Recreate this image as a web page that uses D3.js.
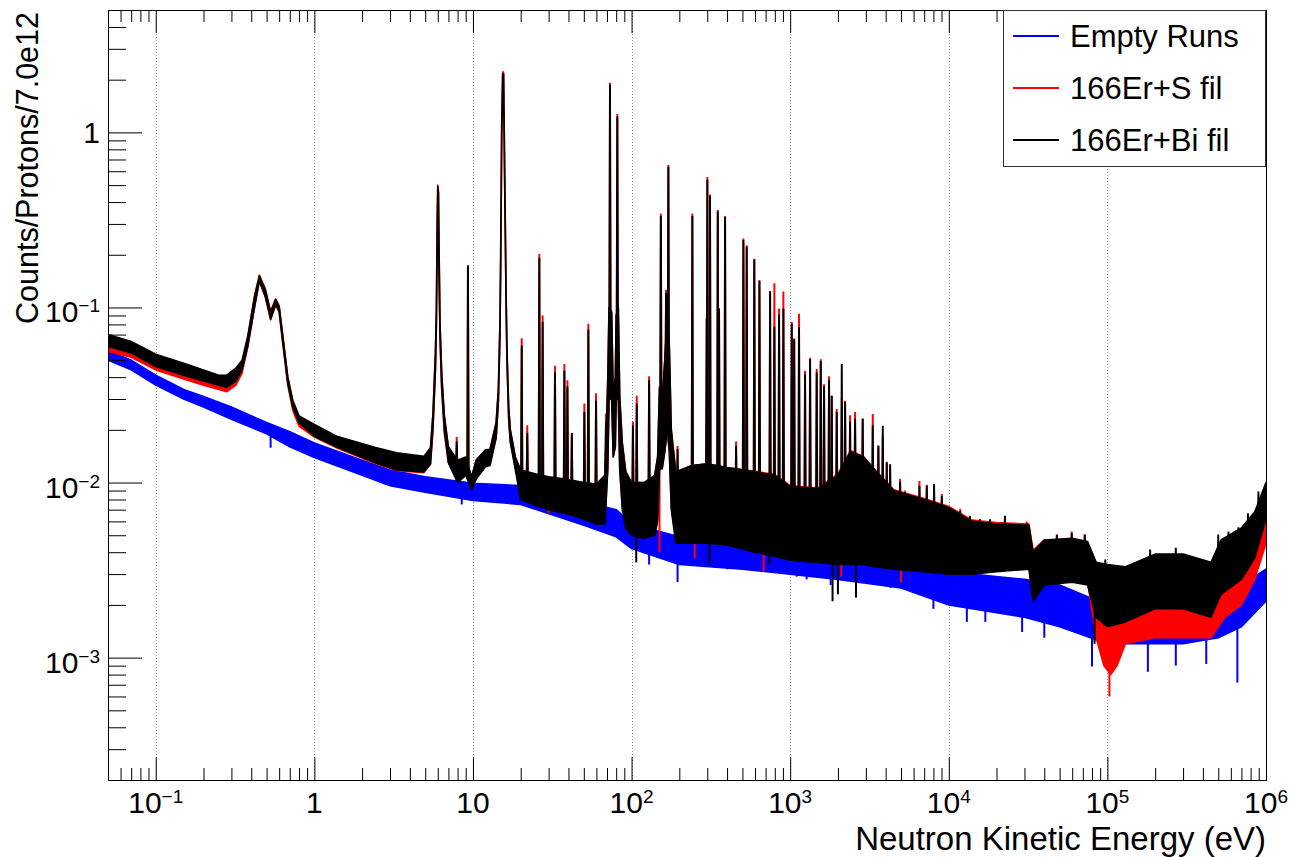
<!DOCTYPE html>
<html>
<head>
<meta charset="utf-8">
<script src="https://cdn.jsdelivr.net/npm/d3@7"></script>
<style>
  body { margin: 0; background: #fff; }
  svg { display: block; font-family: "Liberation Sans", Arial, Helvetica, sans-serif; }
</style>
</head>
<body>
<svg id="chart" width="1290" height="857"></svg>
<script>
// ---- data ----
// Each band row: [energy (eV), lower edge, upper edge] of the noisy histogram
const emptyRuns = [
  [0.05, 0.050, 0.057], [0.07, 0.044, 0.050], [0.1, 0.036, 0.041], [0.15, 0.030, 0.034],
  [0.2, 0.027, 0.031], [0.3, 0.023, 0.027], [0.5, 0.019, 0.022], [0.7, 0.016, 0.0195],
  [1, 0.0139, 0.0168], [2, 0.0110, 0.0134], [3, 0.0096, 0.0118], [5, 0.0088, 0.0108],
  [10, 0.0079, 0.0099], [20, 0.0075, 0.0096], [50, 0.0057, 0.0078], [80, 0.0049, 0.0070],
  [100, 0.0042, 0.0058], [200, 0.0034, 0.0049], [500, 0.0032, 0.0047], [1000, 0.0030, 0.0045],
  [2000, 0.0028, 0.0041], [5000, 0.0025, 0.0038], [1e4, 0.0020, 0.0035], [1.4e4, 0.0019, 0.0030],
  [3e4, 0.0017, 0.0028], [5e4, 0.0015, 0.0026], [1e5, 0.0012, 0.0020], [2e5, 0.0012, 0.0020],
  [3e5, 0.0012, 0.0019], [5e5, 0.0013, 0.0021], [7e5, 0.0015, 0.0026], [1e6, 0.0021, 0.0032]
];

const erBiFil = [
  [0.05, 0.060, 0.070], [0.07, 0.055, 0.064], [0.1, 0.046, 0.054], [0.15, 0.041, 0.048],
  [0.2, 0.038, 0.044], [0.25, 0.036, 0.041], [0.28, 0.035, 0.041], [0.32, 0.038, 0.045],
  [0.35, 0.044, 0.050], [0.38, 0.060, 0.068], [0.42, 0.101, 0.116], [0.45, 0.142, 0.151],
  [0.49, 0.116, 0.127], [0.53, 0.086, 0.094], [0.57, 0.104, 0.111], [0.60, 0.095, 0.101],
  [0.63, 0.065, 0.071], [0.68, 0.037, 0.040], [0.73, 0.027, 0.0295], [0.80, 0.022, 0.024],
  [1.0, 0.0184, 0.0215], [1.4, 0.0159, 0.0183], [2.4, 0.0130, 0.0159], [3.3, 0.0118, 0.0148],
  [4.9, 0.0115, 0.0141], [5.4, 0.0128, 0.0158], [5.6, 0.021, 0.025], [5.8, 0.045, 0.055],
  [5.88, 0.080, 0.095], [5.95, 0.22, 0.30], [6.0, 0.42, 0.49], [6.06, 0.30, 0.45],
  [6.12, 0.14, 0.20], [6.2, 0.068, 0.080], [6.35, 0.035, 0.042], [6.6, 0.020, 0.024],
  [7.0, 0.0130, 0.0160], [8.0, 0.0100, 0.0134], [9.0, 0.0110, 0.0140], [9.8, 0.0091, 0.0108],
  [10.5, 0.0105, 0.0135], [12.0, 0.0123, 0.0154], [12.8, 0.0125, 0.0155], [14.0, 0.018, 0.022],
  [14.46, 0.029, 0.034], [14.8, 0.070, 0.082], [14.96, 0.17, 0.20], [15.18, 0.95, 1.10],
  [15.4, 1.90, 2.15], [15.6, 1.85, 2.15], [15.93, 0.34, 0.40], [16.2, 0.095, 0.11],
  [16.4, 0.048, 0.055], [16.8, 0.023, 0.027], [17.2, 0.017, 0.020], [18.5, 0.0118, 0.0140],
  [20, 0.0080, 0.0118], [25, 0.0074, 0.0112], [30, 0.0070, 0.0108], [40, 0.0066, 0.0104],
  [50, 0.0062, 0.0100], [60, 0.0058, 0.0098], [68, 0.0058, 0.0110], [70.8, 0.012, 0.039],
  [72.1, 0.030, 0.100], [74.9, 0.030, 0.094], [76.6, 0.014, 0.032], [79, 0.016, 0.040],
  [80, 0.030, 0.090], [82.5, 0.030, 0.100], [84.2, 0.012, 0.031], [87.4, 0.0070, 0.0168],
  [92, 0.0055, 0.0115], [100, 0.0050, 0.0100], [120, 0.0048, 0.0100], [140, 0.0050, 0.0110],
  [146, 0.0060, 0.0140], [150, 0.012, 0.035], [156, 0.012, 0.030], [162, 0.015, 0.050],
  [168, 0.020, 0.090], [173, 0.015, 0.060], [178, 0.0070, 0.020], [190, 0.0045, 0.0115],
  [240, 0.0045, 0.0125], [300, 0.0045, 0.0128], [400, 0.0044, 0.0122], [600, 0.0040, 0.0115],
  [800, 0.0038, 0.0110], [1000, 0.0036, 0.0095], [1500, 0.0035, 0.0092], [2000, 0.0034, 0.0110],
  [2400, 0.0034, 0.0150], [2900, 0.0034, 0.0140], [3500, 0.0033, 0.0115], [4500, 0.0032, 0.0090],
  [7000, 0.0031, 0.0080], [1e4, 0.0030, 0.0072], [1.4e4, 0.0030, 0.0060], [2e4, 0.0031, 0.0058],
  [3.2e4, 0.0032, 0.0057], [3.4e4, 0.0021, 0.0040], [4e4, 0.0026, 0.0047], [6e4, 0.0027, 0.0048],
  [7.5e4, 0.0026, 0.0046], [8.5e4, 0.0017, 0.0035], [1e5, 0.0015, 0.0034], [1.3e5, 0.0016, 0.0033],
  [2e5, 0.0019, 0.0039], [3e5, 0.0019, 0.0039], [4.5e5, 0.0017, 0.0035], [5.2e5, 0.0023, 0.0047],
  [7e5, 0.0028, 0.0055], [8.5e5, 0.0037, 0.0068], [1e6, 0.0062, 0.0100]
];

const erSFil = [
  [0.05, 0.056, 0.066], [0.07, 0.052, 0.060], [0.1, 0.044, 0.051], [0.15, 0.039, 0.046],
  [0.2, 0.036, 0.042], [0.25, 0.034, 0.039], [0.28, 0.033, 0.039], [0.32, 0.036, 0.043],
  [0.35, 0.042, 0.048], [0.38, 0.059, 0.068], [0.42, 0.100, 0.117], [0.45, 0.141, 0.153],
  [0.49, 0.115, 0.128], [0.53, 0.085, 0.095], [0.57, 0.103, 0.112], [0.60, 0.094, 0.102],
  [0.63, 0.064, 0.071], [0.68, 0.036, 0.040], [0.73, 0.026, 0.0295], [0.80, 0.021, 0.024],
  [1.0, 0.0182, 0.0210], [1.4, 0.0157, 0.0180], [2.4, 0.0129, 0.0156], [3.3, 0.0117, 0.0145],
  [4.9, 0.0114, 0.0138], [5.4, 0.0127, 0.0155], [5.6, 0.020, 0.025], [5.8, 0.044, 0.056],
  [5.88, 0.079, 0.097], [5.95, 0.22, 0.31], [6.0, 0.42, 0.50], [6.06, 0.30, 0.46],
  [6.12, 0.14, 0.20], [6.2, 0.067, 0.081], [6.35, 0.034, 0.042], [6.6, 0.019, 0.024],
  [7.0, 0.0130, 0.0157], [8.0, 0.0102, 0.0132], [9.0, 0.0112, 0.0138], [9.8, 0.0093, 0.0107],
  [10.5, 0.0107, 0.0134], [12.0, 0.0125, 0.0152], [12.8, 0.0127, 0.0153], [14.0, 0.018, 0.022],
  [14.46, 0.029, 0.034], [14.8, 0.070, 0.083], [14.96, 0.17, 0.21], [15.18, 0.95, 1.13],
  [15.4, 1.90, 2.22], [15.6, 1.85, 2.20], [15.93, 0.34, 0.41], [16.2, 0.095, 0.112],
  [16.4, 0.048, 0.056], [16.8, 0.023, 0.027], [17.2, 0.017, 0.020], [18.5, 0.0122, 0.0139],
  [20, 0.0083, 0.0117], [25, 0.0077, 0.0111], [30, 0.0073, 0.0107], [40, 0.0069, 0.0103],
  [50, 0.0065, 0.0099], [60, 0.0061, 0.0097], [68, 0.0061, 0.0110], [70.8, 0.012, 0.039],
  [72.1, 0.030, 0.100], [74.9, 0.030, 0.094], [76.6, 0.014, 0.032], [79, 0.016, 0.040],
  [80, 0.030, 0.090], [82.5, 0.030, 0.100], [84.2, 0.012, 0.031], [87.4, 0.0073, 0.0168],
  [92, 0.0058, 0.0115], [100, 0.0053, 0.0100], [120, 0.0051, 0.0100], [140, 0.0053, 0.0110],
  [146, 0.0063, 0.0140], [150, 0.012, 0.035], [156, 0.012, 0.030], [162, 0.015, 0.050],
  [168, 0.020, 0.090], [173, 0.015, 0.060], [178, 0.0073, 0.020], [190, 0.0047, 0.0115],
  [240, 0.0047, 0.0125], [300, 0.0047, 0.0128], [400, 0.0046, 0.0122], [600, 0.0042, 0.0116],
  [800, 0.0040, 0.0111], [1000, 0.0038, 0.0096], [1500, 0.0037, 0.0093], [2000, 0.0036, 0.0112],
  [2400, 0.0036, 0.0152], [2900, 0.0036, 0.0141], [3500, 0.0035, 0.0116], [4500, 0.0034, 0.0091],
  [7000, 0.0033, 0.0081], [1e4, 0.0032, 0.0073], [1.4e4, 0.0032, 0.0061], [2e4, 0.0033, 0.0059],
  [3.2e4, 0.0034, 0.0058], [3.4e4, 0.0022, 0.0041], [4e4, 0.0028, 0.0047], [6e4, 0.0029, 0.0047],
  [7.5e4, 0.0027, 0.0045], [8.5e4, 0.0013, 0.0030], [9.5e4, 0.0009, 0.0020], [1.05e5, 0.0008, 0.0017],
  [1.15e5, 0.0009, 0.0020], [1.3e5, 0.0012, 0.0026], [2e5, 0.0013, 0.0027], [3e5, 0.0013, 0.0026],
  [4.5e5, 0.0013, 0.0025], [5.5e5, 0.0017, 0.0033], [7e5, 0.0020, 0.0040], [8.5e5, 0.0028, 0.0050],
  [1e6, 0.0045, 0.0066]
];

// Narrow resonances: [energy (eV), top with Bi filter, top with S filter]
const resonances = [
  [7.9, 0.017, 0.018], [9.3, 0.170, 0.173], [20.3, 0.060, 0.066], [22.0, 0.019, 0.021],
  [26.2, 0.190, 0.200], [27.5, 0.082, 0.089], [32.9, 0.042, 0.046], [37.7, 0.043, 0.047],
  [39.4, 0.035, 0.038], [42.0, 0.019, 0.019], [50.4, 0.025, 0.028], [53.4, 0.074, 0.080],
  [59.7, 0.029, 0.032], [69.0, 0.022, 0.0245], [73.1, 1.85, 1.90], [81.3, 1.22, 1.26],
  [102, 0.021, 0.022], [107.8, 0.028, 0.031], [129, 0.038, 0.040], [153, 0.33, 0.34],
  [165, 0.12, 0.125], [170.6, 0.63, 0.645], [195, 0.0154, 0.016], [241.6, 0.33, 0.34],
  [297.7, 0.085, 0.086], [300.5, 0.53, 0.55], [312.3, 0.43, 0.437], [349.6, 0.35, 0.356],
  [356, 0.0975, 0.098], [388.6, 0.325, 0.33], [456, 0.016, 0.017], [507, 0.24, 0.245],
  [532, 0.22, 0.224], [594, 0.186, 0.188], [640, 0.14, 0.142], [747, 0.122, 0.123],
  [795, 0.077, 0.136], [851, 0.090, 0.0975], [906, 0.0975, 0.122], [1023, 0.080, 0.082],
  [1060, 0.065, 0.066], [1137, 0.0765, 0.091], [1241, 0.041, 0.043], [1335, 0.050, 0.051],
  [1470, 0.042, 0.044], [1559, 0.049, 0.050], [1635, 0.035, 0.036], [1758, 0.038, 0.040],
  [1828, 0.031, 0.031], [1966, 0.025, 0.026], [2115, 0.047, 0.030], [2219, 0.0285, 0.029],
  [2385, 0.022, 0.024], [2565, 0.023, 0.025], [2866, 0.0229, 0.023], [3317, 0.021, 0.0244],
  [3598, 0.0161, 0.016], [3836, 0.0209, 0.018], [4064, 0.0129, 0.013], [4266, 0.0126, 0.0125],
  [4932, 0.0100, 0.0104], [5300, 0.0087, 0.0089], [6530, 0.0095, 0.0101], [7266, 0.0095, 0.0096],
  [8075, 0.0097, 0.0092], [9036, 0.0083, 0.0085], [9707, 0.0070, 0.0072], [1.18e4, 0.0068, 0.0070],
  [1.36e4, 0.0064, 0.0061], [1.57e4, 0.0061, 0.0061], [1.82e4, 0.0061, 0.0060], [2.26e4, 0.0064, 0.0062],
  [3.1e4, 0.0058, 0.0059], [4.8e4, 0.0050, 0.0049], [5.96e4, 0.0051, 0.0052], [7.2e4, 0.0050, 0.0050],
  [9.7e4, 0.0036, 0.0024], [1.86e5, 0.0041, 0.0027], [2.7e5, 0.0042, 0.0027], [5.0e5, 0.0050, 0.0033],
  [5.8e5, 0.0052, 0.0036], [6.7e5, 0.0055, 0.0042], [7.7e5, 0.0066, 0.0048], [8.96e5, 0.0088, 0.0058]
];

// Single noise excursions out of the bands: [energy (eV), value]
const emptyRunsDips = [[0.53, 0.0158], [8.5, 0.0075], [13.7, 0.0077], [20.4, 0.0079],
  [31.7, 0.0067], [40, 0.0061], [48, 0.0058], [92, 0.0046], [129, 0.0034], [195, 0.0027],
  [400, 0.0032], [1100, 0.0029], [1270, 0.0028], [1800, 0.0026], [4300, 0.0025], [8000, 0.0019],
  [8800, 0.0021], [1.3e4, 0.0016], [1.7e4, 0.0016], [2.9e4, 0.0014], [4e4, 0.0013],
  [8.0e4, 0.00089], [1.8e5, 0.00083], [2.7e5, 0.0009], [4.2e5, 0.00092], [6.6e5, 0.00072]];
const erBiDips = [[107, 0.0035], [310, 0.0034], [740, 0.0034], [1850, 0.0021], [2000, 0.0023],
  [2600, 0.0022], [8.3e4, 0.0012]];
const erSDips = [[30, 0.0067], [55, 0.0066], [150, 0.0040], [250, 0.0037], [680, 0.0031],
  [2100, 0.0029], [5000, 0.0027], [1.03e5, 0.0006]];

const xTickLabels = [[0.1, "10", "\u22121"], [1, "1", ""], [10, "10", ""], [100, "10", "2"],
  [1e3, "10", "3"], [1e4, "10", "4"], [1e5, "10", "5"], [1e6, "10", "6"]];
const yTickLabels = [[1e-3, "10", "\u22123"], [1e-2, "10", "\u22122"], [1e-1, "10", "\u22121"], [1, "1", ""]];

const legendItems = [["Empty Runs", "#0000ff"], ["166Er+S fil", "#ff0000"], ["166Er+Bi fil", "#000000"]];

// ---- layout ----
const frame = { left: 108, right: 1266, top: 10, bottom: 780 };
const svg = d3.select('#chart');

const x = d3.scaleLog().domain([0.05, 1e6]).range([frame.left, frame.right]);
const y = d3.scaleLog().domain([2e-4, 5]).range([frame.bottom, frame.top]);

svg.append('defs').append('clipPath').attr('id', 'plot-clip')
  .append('rect')
  .attr('x', frame.left).attr('y', frame.top)
  .attr('width', frame.right - frame.left).attr('height', frame.bottom - frame.top);

// tick positions
const xMajor = xTickLabels.map(d => d[0]);
const xMinor = [];
d3.range(-2, 6).forEach(k => d3.range(2, 10).forEach(m => {
  const v = m * Math.pow(10, k);
  if (v >= 0.05 && v <= 1e6) xMinor.push(v);
}));
const yMajor = yTickLabels.map(d => d[0]);
const yMinor = [];
d3.range(-4, 1).forEach(k => d3.range(2, 10).forEach(m => {
  const v = m * Math.pow(10, k);
  if (v >= 2e-4 && v <= 5) yMinor.push(v);
}));

// vertical dotted grid
svg.append('g').selectAll('line')
  .data(xMajor.filter(v => v < 1e6))
  .enter().append('line')
  .attr('x1', d => Math.round(x(d)) + 0.5).attr('x2', d => Math.round(x(d)) + 0.5)
  .attr('y1', frame.top).attr('y2', frame.bottom)
  .attr('stroke', '#8a8a8a').attr('stroke-width', 1).attr('stroke-dasharray', '1,2');

// ---- histograms ----
const plot = svg.append('g').attr('clip-path', 'url(#plot-clip)');

function bandAt(band, e) {
  // geometric middle of the band at energy e (anchors spikes to the band)
  const i = d3.bisector(d => d[0]).right(band, e);
  const a = band[Math.max(0, i - 1)], b = band[Math.min(band.length - 1, i)];
  const ma = Math.log(a[1] * a[2]) / 2, mb = Math.log(b[1] * b[2]) / 2;
  if (a === b) return Math.exp(ma);
  const t = Math.log(e / a[0]) / Math.log(b[0] / a[0]);
  return Math.exp(ma + t * (mb - ma));
}

const area = d3.area().x(d => x(d[0])).y0(d => y(d[1])).y1(d => y(d[2]));
const line = d3.line().x(d => x(d[0])).y(d => y(d[1]));

function drawSeries(band, spikes, topIdx, dips, color) {
  const g = plot.append('g');
  g.append('path').datum(band)
    .attr('d', area)
    .attr('fill', color).attr('stroke', color)
    .attr('stroke-width', 1.6).attr('stroke-linejoin', 'round');

  spikes.forEach(r => {
    const e = r[0], top = r[topIdx], base = bandAt(band, e);
    if (top <= base) return;
    g.append('path')
      .attr('d', line([[e / 1.012, base], [e / 1.0025, top], [e * 1.0025, top], [e * 1.012, base]]))
      .attr('fill', color).attr('stroke', color).attr('stroke-width', 1.6);
  });

  dips.forEach(r => {
    g.append('line')
      .attr('x1', x(r[0])).attr('x2', x(r[0]))
      .attr('y1', y(bandAt(band, r[0]))).attr('y2', y(r[1]))
      .attr('stroke', color).attr('stroke-width', 2);
  });
}

drawSeries(emptyRuns, [], 1, emptyRunsDips, '#0000ff');
drawSeries(erSFil, resonances, 2, erSDips, '#ff0000');
drawSeries(erBiFil, resonances, 1, erBiDips, '#000000');

// ---- axes ----
function noDomain(g) { g.select('.domain').remove(); }

svg.append('g').attr('transform', `translate(0,${frame.bottom})`).attr('color', '#000')
  .call(d3.axisBottom(x).tickValues(xMinor).tickSize(-12).tickFormat('')).call(noDomain);
svg.append('g').attr('transform', `translate(0,${frame.bottom})`).attr('color', '#000')
  .call(d3.axisBottom(x).tickValues(xMajor).tickSize(-23).tickFormat('')).call(noDomain);
svg.append('g').attr('transform', `translate(0,${frame.top})`).attr('color', '#000')
  .call(d3.axisTop(x).tickValues(xMinor).tickSize(-12).tickFormat('')).call(noDomain);
svg.append('g').attr('transform', `translate(0,${frame.top})`).attr('color', '#000')
  .call(d3.axisTop(x).tickValues(xMajor).tickSize(-23).tickFormat('')).call(noDomain);
svg.append('g').attr('transform', `translate(${frame.left},0)`).attr('color', '#000')
  .call(d3.axisLeft(y).tickValues(yMinor).tickSize(-18).tickFormat('')).call(noDomain);
svg.append('g').attr('transform', `translate(${frame.left},0)`).attr('color', '#000')
  .call(d3.axisLeft(y).tickValues(yMajor).tickSize(-34).tickFormat('')).call(noDomain);

// frame
svg.append('rect')
  .attr('x', frame.left + 0.5).attr('y', frame.top + 0.5)
  .attr('width', frame.right - frame.left).attr('height', frame.bottom - frame.top)
  .attr('fill', 'none').attr('stroke', '#000').attr('stroke-width', 1);

// tick labels
function powLabel(sel, base, exp) {
  sel.append('tspan').text(base);
  if (exp) sel.append('tspan').attr('dy', -10).attr('font-size', 19).text(exp);
}

xTickLabels.forEach(([v, base, exp]) => {
  svg.append('text')
    .attr('x', x(v)).attr('y', 813)
    .attr('text-anchor', 'middle').attr('font-size', 30)
    .call(powLabel, base, exp);
});
yTickLabels.forEach(([v, base, exp]) => {
  svg.append('text')
    .attr('x', 100).attr('y', y(v) + (exp ? 15 : 11))
    .attr('text-anchor', 'end').attr('font-size', 30)
    .call(powLabel, base, exp);
});

// axis titles
svg.append('text')
  .attr('x', frame.right).attr('y', 849.5)
  .attr('text-anchor', 'end').attr('font-size', 33)
  .text('Neutron Kinetic Energy (eV)');
svg.append('text')
  .attr('transform', `translate(38,${frame.top + 2}) rotate(-90)`)
  .attr('text-anchor', 'end').attr('font-size', 30.5)
  .text('Counts/Protons/7.0e12');

// ---- legend ----
const legend = svg.append('g');
legend.append('rect')
  .attr('x', 1003.5).attr('y', 10.5).attr('width', 262).attr('height', 156)
  .attr('fill', '#fff').attr('stroke', '#333').attr('stroke-width', 1);
legendItems.forEach(([label, color], i) => {
  const cy = 36 + i * 52;
  legend.append('line')
    .attr('x1', 1013).attr('x2', 1059).attr('y1', cy).attr('y2', cy)
    .attr('stroke', color).attr('stroke-width', 2);
  legend.append('text')
    .attr('x', 1070).attr('y', cy + 11)
    .attr('font-size', 31)
    .text(label);
});
</script>
</body>
</html>
